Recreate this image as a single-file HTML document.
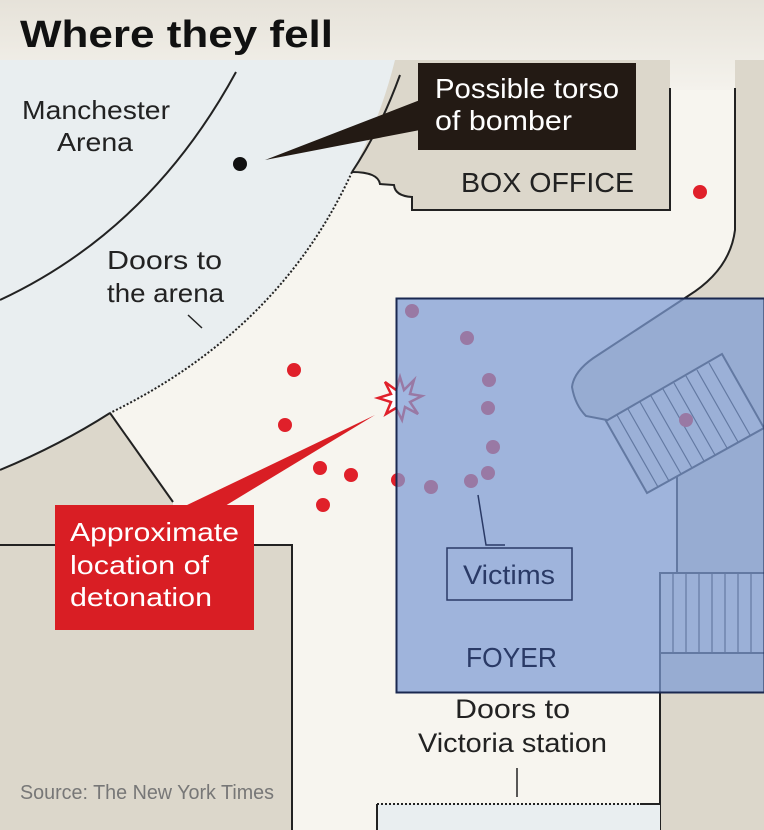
<!DOCTYPE html>
<html><head><meta charset="utf-8"><style>
html,body{margin:0;padding:0;background:#f7f5ef}
svg{display:block}
text{font-family:"Liberation Sans",sans-serif}
</style></head><body>
<svg width="764" height="830" viewBox="0 0 764 830" xmlns="http://www.w3.org/2000/svg">
<defs>
<linearGradient id="hd" x1="0" y1="0" x2="0" y2="1"><stop offset="0" stop-color="#e6e2d9"/><stop offset="1" stop-color="#f4f2ec"/></linearGradient>
</defs>
<rect width="764" height="830" fill="#f7f5ef"/>
<rect width="764" height="90" fill="url(#hd)"/>
<!-- arena light region -->
<path d="M0,60 L405,60 L400,75 Q380,130 352,172 Q280,330 110,413 Q60,445 0,470 Z" fill="#e9eef0"/>
<!-- beige right region -->
<path d="M735,60 L764,60 L764,830 L660,830 L660,573 L677,573 L677,477 L647,493 L606,421 L586,416 Q575,405 572,387 Q574,370 598,355 L688,296 Q730,270 735,230 Z" fill="#dcd7cb"/>
<!-- box office -->
<path d="M395,60 L670,60 L670,210 L412,210 L412,197 Q395,196 394,185 L380,184 Q378,172 352,172 Q380,120 395,60 Z" fill="#dcd7cb"/>
<path d="M670,88 L670,210 L412,210 L412,197 Q395,196 394,185 L380,184 Q378,172 352,172" fill="none" stroke="#222" stroke-width="2"/>
<!-- right wall -->
<path d="M735,88 L735,230 Q730,270 688,296 L598,355 Q574,370 572,387 Q575,405 586,416 L607,420" fill="none" stroke="#222" stroke-width="2"/>
<!-- beige left blocks -->
<path d="M0,470 Q60,445 110,413 L173,502 L173,545 L0,545 Z" fill="#dcd7cb"/>
<path d="M0,545 L292,545 L292,830 L0,830 Z" fill="#dcd7cb"/>
<path d="M0,545 L292,545 L292,830" fill="none" stroke="#222" stroke-width="2"/>
<path d="M110,413 L173,502" stroke="#222" stroke-width="2"/>
<!-- arcs -->
<path d="M236,72 Q150,230 0,300" fill="none" stroke="#222" stroke-width="2"/>
<path d="M400,75 Q380,130 352,172" fill="none" stroke="#222" stroke-width="2"/>
<path d="M352,172 Q280,330 110,413" fill="none" stroke="#222" stroke-width="2" stroke-dasharray="2,2"/>
<path d="M110,413 Q60,445 0,470" fill="none" stroke="#222" stroke-width="2"/>
<path d="M188,315 L202,328" stroke="#222" stroke-width="1.5"/>
<!-- stairs -->
<path d="M606,421 L722,354 L764,428 L647,493 Z" fill="#e9e6df" stroke="#222" stroke-width="2"/>
<g stroke="#222" stroke-width="1.2">
<path d="M617,415 L658,487 M628,409 L669,481 M640,402 L681,474 M651,396 L692,468 M663,389 L704,461 M674,383 L715,455 M686,376 L727,448 M697,370 L738,442 M709,363 L750,435"/>
</g>
<path d="M677,477 L677,573" stroke="#222" stroke-width="2"/>
<rect x="660" y="573" width="110" height="80" fill="#e9e6df" stroke="#222" stroke-width="2"/>
<g stroke="#222" stroke-width="1.2"><path d="M673,573V653M686,573V653M699,573V653M712,573V653M725,573V653M738,573V653M751,573V653"/></g>
<path d="M660,573 L660,830" stroke="#222" stroke-width="2"/>
<!-- victoria doors -->
<rect x="377" y="804" width="283" height="30" fill="#e9eef0"/>
<path d="M377,830 L377,804 M640,804 L660,804" fill="none" stroke="#222" stroke-width="2"/>
<path d="M377,804 L640,804" stroke="#222" stroke-width="2" stroke-dasharray="2,2"/>
<path d="M517,768 L517,797" stroke="#222" stroke-width="1.5"/>
<!-- dots -->
<g fill="#e0202a">
<circle cx="700" cy="192" r="7"/><circle cx="294" cy="370" r="7"/><circle cx="285" cy="425" r="7"/><circle cx="320" cy="468" r="7"/><circle cx="351" cy="475" r="7"/><circle cx="323" cy="505" r="7"/>
<circle cx="412" cy="311" r="7"/><circle cx="467" cy="338" r="7"/><circle cx="489" cy="380" r="7"/><circle cx="488" cy="408" r="7"/><circle cx="493" cy="447" r="7"/><circle cx="488" cy="473" r="7"/><circle cx="471" cy="481" r="7"/><circle cx="431" cy="487" r="7"/><circle cx="398" cy="480" r="7"/><circle cx="686" cy="420" r="7"/>
</g>
<circle cx="240" cy="164" r="7" fill="#111"/>
<!-- starburst -->
<polygon points="400,377 404,390 414,380 410,394 422,396 410,402 418,414 405,407 402,420 396,408 386,414 391,402 378,398 391,394 385,382 396,390" fill="#fff" stroke="#e0202a" stroke-width="2.5"/>
<!-- red callout -->
<polygon points="185,506 375,415 225,506" fill="#d91e24"/>
<rect x="55" y="505" width="199" height="125" fill="#d91e24"/>
<text fill="#fff" font-size="26"><tspan x="70" y="541" textLength="169" lengthAdjust="spacingAndGlyphs">Approximate</tspan><tspan x="70" y="574" textLength="139" lengthAdjust="spacingAndGlyphs">location of</tspan><tspan x="70" y="606" textLength="142" lengthAdjust="spacingAndGlyphs">detonation</tspan></text>
<!-- black callout -->
<polygon points="265,160 420,100 420,130" fill="#231a14"/>
<rect x="418" y="63" width="218" height="87" fill="#231a14"/>
<text fill="#fff" font-size="28"><tspan x="435" y="98" textLength="184" lengthAdjust="spacingAndGlyphs">Possible torso</tspan><tspan x="435" y="130" textLength="137" lengthAdjust="spacingAndGlyphs">of bomber</tspan></text>
<!-- overlay -->
<rect x="396.5" y="298.5" width="368" height="394" fill="#7d9bd4" fill-opacity="0.72" stroke="#1a2850" stroke-width="2"/>
<!-- victims -->
<path d="M478,495 L486,545 L505,545" fill="none" stroke="#2a3a66" stroke-width="1.5"/>
<rect x="447" y="548" width="125" height="52" fill="none" stroke="#2a3a66" stroke-width="1.5"/>
<text x="463" y="584" font-size="27" fill="#2a3a66" textLength="92" lengthAdjust="spacingAndGlyphs">Victims</text>
<text x="466" y="667" font-size="28" fill="#2a3a66" textLength="91" lengthAdjust="spacingAndGlyphs">FOYER</text>
<!-- labels -->
<text x="20" y="47" font-size="38" font-weight="bold" fill="#111" textLength="313" lengthAdjust="spacingAndGlyphs">Where they fell</text>
<text font-size="26" fill="#222"><tspan x="22" y="119" textLength="148" lengthAdjust="spacingAndGlyphs">Manchester</tspan><tspan x="57" y="151" textLength="76" lengthAdjust="spacingAndGlyphs">Arena</tspan></text>
<text font-size="26" fill="#222"><tspan x="107" y="269" textLength="115" lengthAdjust="spacingAndGlyphs">Doors to</tspan><tspan x="107" y="302" textLength="117" lengthAdjust="spacingAndGlyphs">the arena</tspan></text>
<text x="461" y="192" font-size="28" fill="#222" textLength="173" lengthAdjust="spacingAndGlyphs">BOX OFFICE</text>
<text font-size="27" fill="#222"><tspan x="455" y="718" textLength="115" lengthAdjust="spacingAndGlyphs">Doors to</tspan><tspan x="418" y="752" textLength="189" lengthAdjust="spacingAndGlyphs">Victoria station</tspan></text>
<text x="20" y="799" font-size="20" fill="#777" textLength="254" lengthAdjust="spacingAndGlyphs">Source: The New York Times</text>
</svg>
</body></html>
